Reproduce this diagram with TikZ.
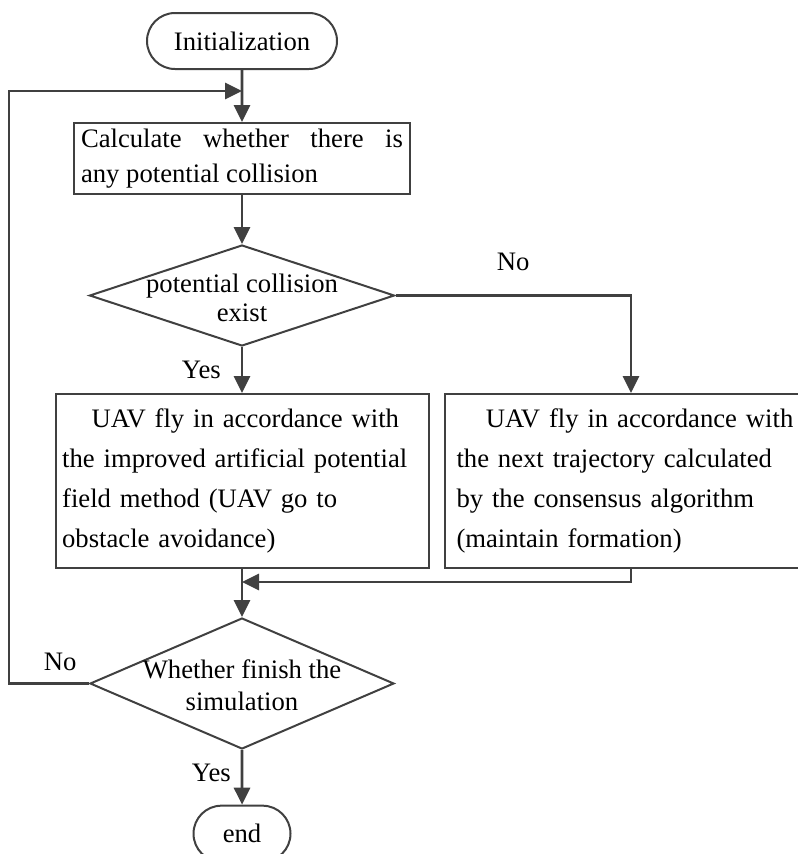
\documentclass[tikz,border=0pt]{standalone}
\usepackage{fontspec}
\setmainfont{Liberation Serif}
\usepackage{tikz}
\usetikzlibrary{shapes,arrows.meta,positioning,calc}
\definecolor{lineg}{RGB}{64,64,64}

\begin{document}
\begin{tikzpicture}[
    node distance=39pt and 10.5pt,
    term/.style={rounded rectangle, draw=lineg, line width=1.5pt, minimum width=142.5pt, minimum height=42pt, inner sep=0pt, font=\fontsize{20pt}{24pt}\selectfont},
    box/.style={rectangle, draw=lineg, line width=1.5pt, align=justify, text width=241.5pt, inner xsep=4.9pt, minimum height=53.25pt, font=\fontsize{20pt}{26pt}\selectfont},
    bigbox/.style={rectangle, draw=lineg, line width=1.5pt, align=left, text width=269.75pt, inner xsep=5pt, minimum height=130.5pt, font=\fontsize{20pt}{30pt}\selectfont},
    dec/.style={diamond, draw=lineg, line width=1.5pt, inner sep=0pt, minimum width=228.75pt, minimum height=75.75pt},
    dectext/.style={align=center, inner sep=0pt, font=\fontsize{20pt}{22pt}\selectfont},
    lab/.style={font=\fontsize{20pt}{24pt}\selectfont},
    arrow/.style={-{Triangle[length=12.75pt, width=12pt]}, line width=2.2pt, draw=lineg}
]
    \useasboundingbox (0,0) rectangle (598.5pt,-640.5pt);

    \node [term] (init) at (181.5pt,-30.75pt) {Initialization};
    \node [box, below=39pt of init] (calc) {Calculate whether there is\linebreak any potential collision};
    \node [dec, below=36.75pt of calc] (dec1) {};
    \node [dectext] (dec1t) at ($(dec1)+(0,-2pt)$) {potential collision\\exist};

    \node [bigbox, below=34.5pt of dec1] (avoid) {\hspace*{22pt}UAV fly in accordance with\\the improved artificial potential\\field method (UAV go to\\obstacle avoidance)};
    \node [bigbox, right=of avoid, inner xsep=9pt, text width=261.75pt] (keep) {\hspace*{22pt}UAV fly in accordance with\\the next trajectory calculated\\by the consensus algorithm\\(maintain formation)};

    \node [dec, below=36pt of avoid, minimum width=228pt, minimum height=98.25pt] (dec2) {};
    \node [dectext, font=\fontsize{20pt}{24pt}\selectfont] (dec2t) at ($(dec2)+(0,-1pt)$) {Whether finish the\\simulation};
    \node [term, below=41pt of dec2, minimum width=72.75pt] (stop) {end};

    \coordinate (loopin) at ($(init.south)+(0,-15.75pt)$);
    \coordinate (merge) at ($(avoid.south)+(0,-9.75pt)$);

    \draw [arrow] (init) -- (calc);
    \draw [arrow] (calc) -- (dec1);
    \draw [arrow] (dec1) -- node [lab, left=11.5pt] {Yes} (avoid);
    \draw [arrow] (dec1.east) -| node [lab, pos=0.25, above=14pt] {No} (keep.north);
    \draw [arrow] (avoid) -- (dec2);
    \draw [arrow] (keep.south) |- (merge);
    \draw [arrow] (dec2.west) -- node [lab, pos=0.36, above=5pt] {No} ++(-60pt,0) |- (loopin);
    \draw [arrow] (dec2) -- node [lab, pos=0.42, left=4pt] {Yes} (stop);
\end{tikzpicture}
\end{document}
